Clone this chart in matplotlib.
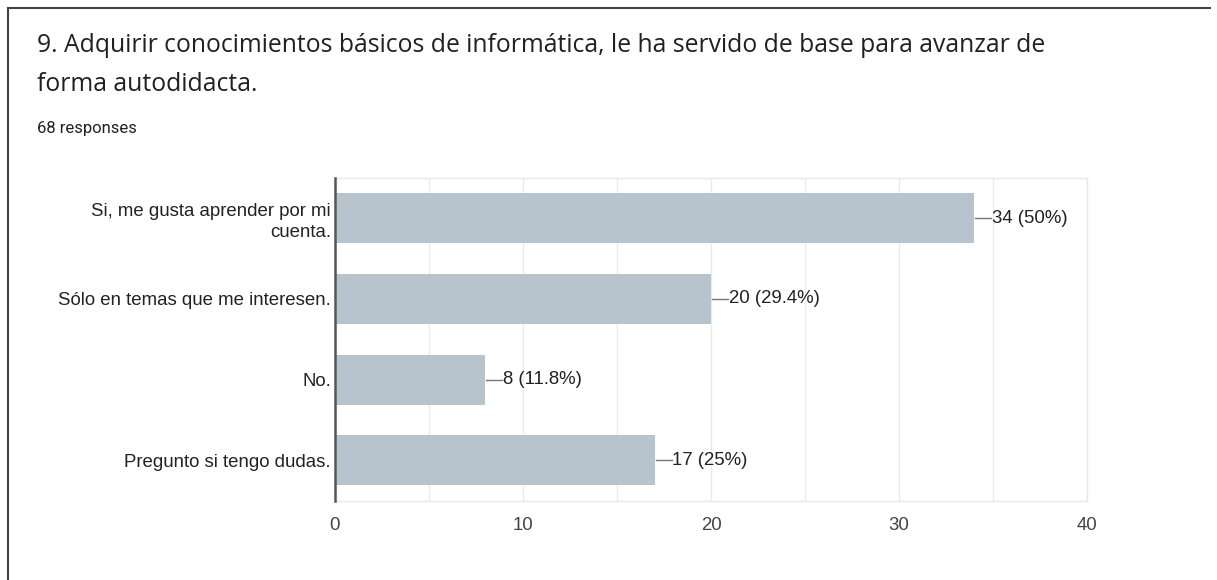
import matplotlib
matplotlib.use("Agg")
import matplotlib.pyplot as plt
from matplotlib.lines import Line2D

title_lines = ["9. Adquirir conocimientos básicos de informática, le ha servido de base para avanzar de",
               "forma autodidacta."]
subtitle = "68 responses"
categories = ["Si, me gusta aprender por mi\ncuenta.", "Sólo en temas que me interesen.", "No.", "Pregunto si tengo dudas."]
counts = [34, 20, 8, 17]
labels = ["34 (50%)", "20 (29.4%)", "8 (11.8%)", "17 (25%)"]
xticks = [0, 10, 20, 30, 40]

W, H = 1217, 580
fig = plt.figure(figsize=(W / 100, H / 100), dpi=100)
fig.patch.set_facecolor("white")

# card border (top and left)
fig.add_artist(Line2D([8 / W, 8 / W], [0, 1 - 8 / H], transform=fig.transFigure, color="#444444", lw=1.5))
fig.add_artist(Line2D([8 / W, 1210 / W], [1 - 8 / H, 1 - 8 / H], transform=fig.transFigure, color="#444444", lw=1.5))

fig.text(37 / W, 1 - 45 / H, title_lines[0], fontsize=17.8, family="Open Sans", color="#202124", va="center", ha="left")
fig.text(37 / W, 1 - 84 / H, title_lines[1], fontsize=17.8, family="Open Sans", color="#202124", va="center", ha="left")
fig.text(37 / W, 1 - 128 / H, subtitle, fontsize=12, family="Roboto", color="#202124", va="center", ha="left")

left, right = 335 / W, 1087 / W
bottom, top = 1 - 500.5 / H, 1 - 178 / H
ax = fig.add_axes([left, bottom, right - left, top - bottom])

fs = 13.4
y = list(range(len(categories)))
ax.barh(y, counts, height=0.62, color="#b7c3cd", zorder=2)
ax.set_ylim(len(categories) - 0.5, -0.5)
ax.set_xlim(0, 40)
ax.set_xticks(xticks)
ax.set_xticks([5, 15, 25, 35], minor=True)
ax.set_yticks(y)
ax.set_yticklabels(categories, family="Liberation Sans", fontsize=fs, color="#222222", linespacing=1.32)
ax.set_xticklabels([str(t) for t in xticks], family="Liberation Sans", fontsize=fs, color="#444444")
ax.tick_params(axis="both", which="both", length=0)
ax.tick_params(axis="y", pad=3)
ax.tick_params(axis="x", pad=12)
ax.grid(axis="x", which="both", color="#ebebeb", lw=1, zorder=0)
for s in ["top", "right", "bottom"]:
    ax.spines[s].set_color("#e8e8e8")
    ax.spines[s].set_linewidth(1)
ax.spines["left"].set_color("#555555")
ax.spines["left"].set_linewidth(1.8)
ax.spines["left"].set_zorder(3)

for yi, c, lab in zip(y, counts, labels):
    ax.plot([c + 0.05, c + 0.9], [yi, yi], color="#777777", lw=1, zorder=3, clip_on=False)
    ax.text(c + 0.95, yi, lab, va="center", ha="left", family="Liberation Sans", fontsize=fs, color="#222222")

fig.savefig("out.png", dpi=100, facecolor="white")
